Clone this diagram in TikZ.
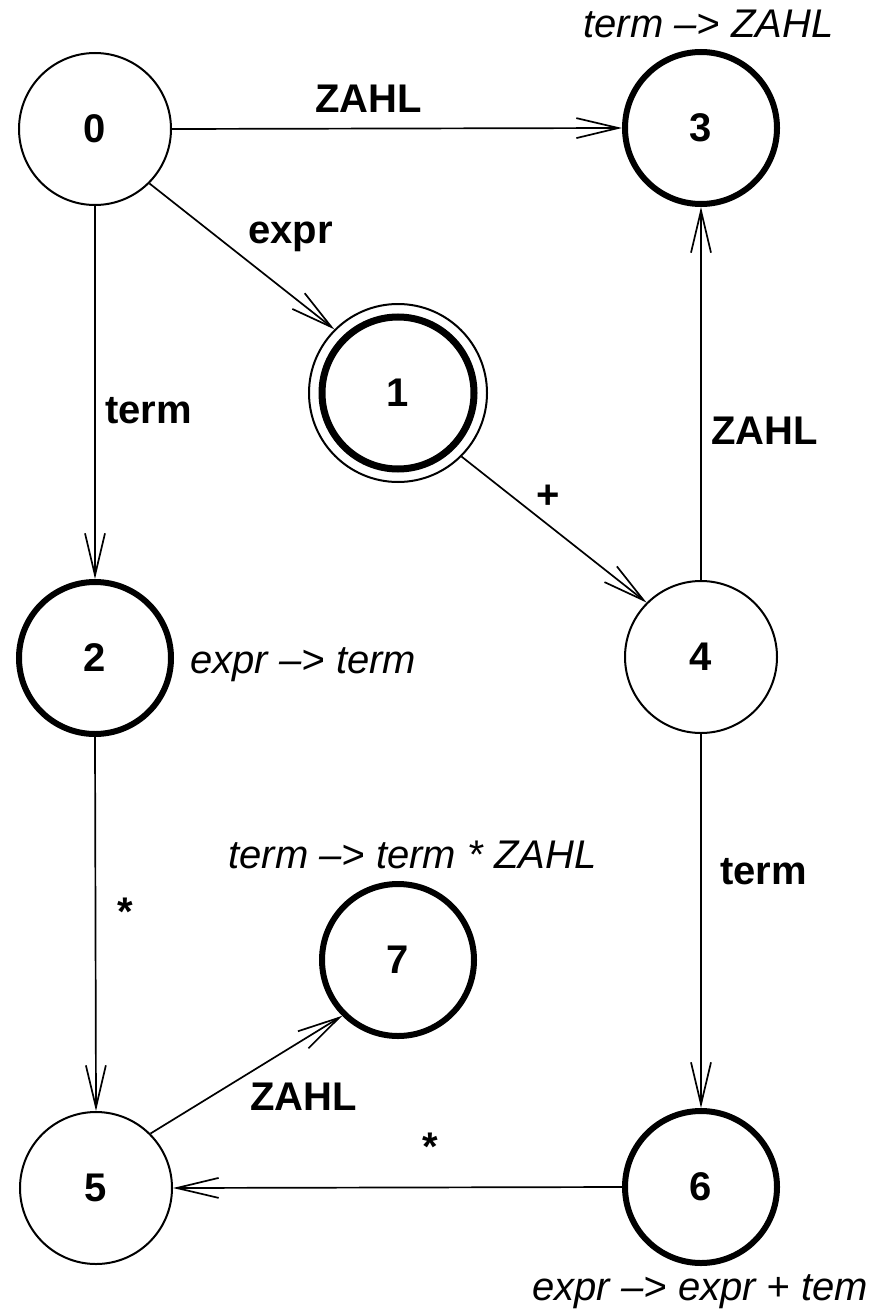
\documentclass[tikz,border=0pt]{standalone}
\usepackage{fontspec}
\setmainfont{Liberation Sans}
\usetikzlibrary{arrows.meta}
\begin{document}
\begin{tikzpicture}[x=0.5pt,y=-0.5pt,
  state/.style={circle,draw,line width=1pt,minimum size=76pt,inner sep=0pt,
    font=\fontsize{20}{24}\selectfont\bfseries},
  final/.style={state,line width=3pt},
  ring/.style={circle,draw,line width=1pt,minimum size=89pt,inner sep=0pt},
  trans/.style={line width=0.85pt,
    -{Straight Barb[length=21pt,width=10pt,line width=0.85pt]}},
  elabel/.style={font=\fontsize{20}{24}\selectfont\bfseries,inner sep=0pt,anchor=base west},
  rule/.style={font=\fontsize{20}{24}\selectfont\itshape,inner sep=0pt,anchor=base west}
]
\useasboundingbox (0,0) rectangle (869,1316);

% states of the LR automaton
\node[state] (n0) at (95,129) {0};
\node[final] (n3) at (701,128) {3};
\node[ring]  (r1) at (398,393) {};
\node[final,line width=3.5pt] (n1) at (398,393) {1};
\node[final] (n2) at (95,658) {2};
\node[state] (n4) at (701,657) {4};
\node[final] (n7) at (398,960) {7};
\node[state] (n5) at (96,1188) {5};
\node[final] (n6) at (701,1187) {6};

% transitions
\draw[trans] (n0.east) -- (n3.west);
\draw[trans] (n0.south east) -- (r1.north west);
\draw[trans] (n0.south) -- (n2.north);
\draw[trans] (r1.south east) -- (n4.north west);
\draw[trans] (n4.north) -- (n3.south);
\draw[trans] (n4.south) -- (n6.north);
\draw[trans] (n2.south) -- (n5.north);
\draw[trans] (n5.north east) -- (n7.south west);
\draw[trans] (n6.west) -- (n5.east);

% transition labels
\node[elabel] (l03) at (315,113) {ZAHL};
\node[elabel] (l01) at (248,243) {expr};
\node[elabel] (l02) at (105,423) {term};
\node[elabel,anchor=center] (l14) at (548,497) {+};
\node[elabel] (l43) at (711,444) {ZAHL};
\node[elabel] (l46) at (720,884) {term};
\node[elabel,anchor=center] (l25) at (125,912) {*};
\node[elabel] (l57) at (250,1110) {ZAHL};
\node[elabel,anchor=center] (l65) at (430,1147) {*};

% reductions
\node[rule] (a3) at (583,38) {term –> ZAHL};
\node[rule] (a2) at (190,673) {expr –> term};
\node[rule] (a7) at (228,868) {term –> term * ZAHL};
\node[rule] (a6) at (532,1300) {expr –> expr + tem};
\end{tikzpicture}
\end{document}
